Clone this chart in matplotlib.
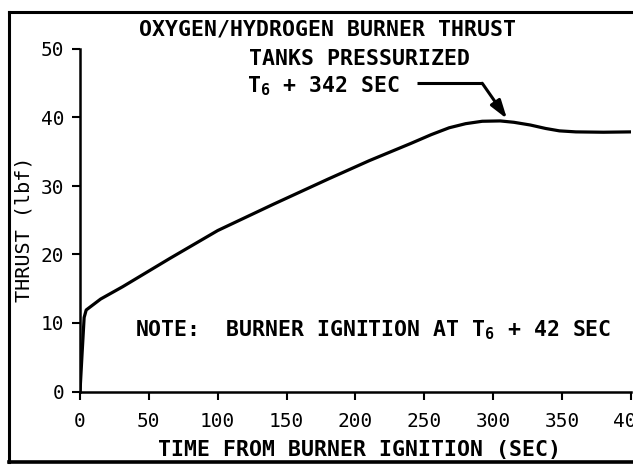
import matplotlib
matplotlib.use("Agg")
import matplotlib.pyplot as plt

plt.rcParams['font.family'] = ['DejaVu Sans Mono', 'DejaVu Sans']
plt.rcParams['mathtext.fontset'] = 'custom'
plt.rcParams['mathtext.rm'] = 'DejaVu Sans Mono'
plt.rcParams['mathtext.it'] = 'DejaVu Sans Mono'
plt.rcParams['mathtext.bf'] = 'DejaVu Sans Mono:bold'

# burner thrust history, seconds from ignition vs lbf
time_s = [0, 1.5, 3.0, 4.5, 15, 31, 65, 100, 140, 180, 210, 240,
          255, 268, 280, 292, 305, 315, 327, 338, 348, 360, 380, 400]
thrust_lbf = [0, 5.5, 10.8, 11.9, 13.5, 15.3, 19.4, 23.5, 27.3, 31.0, 33.7, 36.2,
              37.5, 38.5, 39.1, 39.45, 39.5, 39.3, 38.9, 38.4, 38.05, 37.9, 37.85, 37.9]

x_ticks = [0, 50, 100, 150, 200, 250, 300, 350, 400]
y_ticks = [0, 10, 20, 30, 40, 50]

# callout pointing at the tank pressurization point
arrow_start = (245, 45.0)
arrow_bend = (292, 45.0)
arrow_tip = (310, 39.8)

fig = plt.figure(figsize=(6.33, 4.69), dpi=100)
ax = fig.add_axes([80 / 633, 77.5 / 469, 551 / 633, 342.5 / 469])

ax.plot(time_s, thrust_lbf, color='black', lw=2.3, solid_joinstyle='round')

ax.set_xlim(0, 400)
ax.set_ylim(0, 50)
ax.set_xticks(x_ticks)
ax.set_yticks(y_ticks)
for side in ['top', 'right']:
    ax.spines[side].set_visible(False)
for side in ['left', 'bottom']:
    ax.spines[side].set_linewidth(1.8)
ax.tick_params(axis='both', direction='out', length=5.5, width=1.5, labelsize=14)
ax.tick_params(axis='x', pad=9)
ax.tick_params(axis='y', pad=6)
for lab in ax.get_xticklabels() + ax.get_yticklabels():
    lab.set_clip_on(False)

txt = dict(fontsize=15.5, fontweight='bold')

# annotation text
ax.text(180, 52.0, "OXYGEN/HYDROGEN BURNER THRUST", ha='center', va='baseline',
        clip_on=False, **txt)
ax.text(123, 47.6, "TANKS PRESSURIZED", ha='left', va='baseline', **txt)
ax.text(121, 43.6, r"T$\mathbf{_6}$ + 342 SEC", ha='left', va='baseline', **txt)
ax.text(40, 8.1, r"NOTE:  BURNER IGNITION AT T$\mathbf{_6}$ + 42 SEC", ha='left',
        va='baseline', **txt)

ax.plot([arrow_start[0], arrow_bend[0]], [arrow_start[1], arrow_bend[1]],
        color='black', lw=2.2, solid_capstyle='butt')
ax.annotate("", xy=arrow_tip, xytext=arrow_bend,
            arrowprops=dict(arrowstyle='-|>,head_length=1.1,head_width=0.35',
                            color='black', lw=2.2, shrinkA=0, shrinkB=0))

fig.text(24 / 633, 1 - 229 / 469, "THRUST (lbf)", rotation=90, ha='center',
         va='center', fontsize=14.5)
fig.text(360 / 633, 1 - 450 / 469, "TIME FROM BURNER IGNITION (SEC)", ha='center',
         va='center', **txt)

# outer border of the figure panel
fig.add_artist(plt.Line2D([9 / 633, 9 / 633], [1 - 12 / 469, 1 - 462 / 469],
                          color='black', lw=2.2))
fig.add_artist(plt.Line2D([9 / 633, 1.0], [1 - 12 / 469, 1 - 12 / 469],
                          color='black', lw=2.2))
fig.add_artist(plt.Line2D([9 / 633, 1.0], [1 - 462 / 469, 1 - 462 / 469],
                          color='black', lw=2.6))

fig.savefig("out.png", dpi=100)
